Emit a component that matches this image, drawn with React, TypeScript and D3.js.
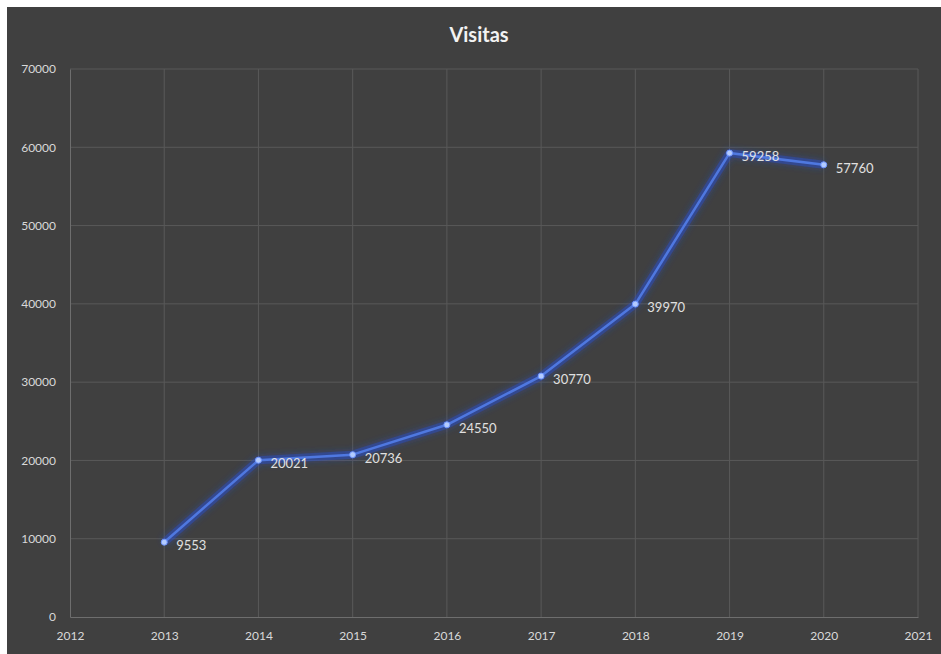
import React, { useEffect, useRef } from 'react';
import * as d3 from 'd3';

const years = [2013, 2014, 2015, 2016, 2017, 2018, 2019, 2020];
const visits = [9553, 20021, 20736, 24550, 30770, 39970, 59258, 57760];
const xTicks = [2012, 2013, 2014, 2015, 2016, 2017, 2018, 2019, 2020, 2021];
const yTicks = [0, 10000, 20000, 30000, 40000, 50000, 60000, 70000];

const App: React.FC = () => {
  const svgRef = useRef<SVGSVGElement>(null);

  useEffect(() => {
    if (!svgRef.current) return;
    const width = 941;
    const height = 654;
    const margin = { top: 69, right: 23, bottom: 37, left: 70 };

    const svg = d3.select(svgRef.current);
    svg.selectAll('*').remove();
    svg.attr('width', width).attr('height', height);

    const defs = svg.append('defs');
    const glow = defs.append('filter').attr('id', 'glow')
      .attr('x', '-20%').attr('y', '-20%').attr('width', '140%').attr('height', '140%');
    glow.append('feGaussianBlur').attr('in', 'SourceGraphic').attr('stdDeviation', 3.5).attr('result', 'blur');
    const merge = glow.append('feMerge');
    merge.append('feMergeNode').attr('in', 'blur');
    merge.append('feMergeNode').attr('in', 'SourceGraphic');

    svg.append('rect').attr('width', width).attr('height', height).attr('fill', '#ffffff');
    svg.append('rect').attr('x', 7).attr('y', 7).attr('width', width - 7).attr('height', height - 7)
      .attr('fill', '#404040');

    const x = d3.scaleLinear().domain([2012, 2021]).range([margin.left, width - margin.right]);
    const y = d3.scaleLinear().domain([0, 70000]).range([height - margin.bottom, margin.top]);

    const font = 'Lato, "Open Sans", sans-serif';

    // gridlines
    const grid = svg.append('g');
    grid.selectAll('.vg').data(xTicks.slice(1)).enter().append('line')
      .attr('x1', d => x(d)).attr('x2', d => x(d))
      .attr('y1', y(70000)).attr('y2', y(0))
      .attr('stroke', '#595959').attr('stroke-width', 1);
    grid.selectAll('.hg').data(yTicks.slice(1)).enter().append('line')
      .attr('x1', x(2012)).attr('x2', x(2021))
      .attr('y1', d => y(d)).attr('y2', d => y(d))
      .attr('stroke', '#595959').attr('stroke-width', 1);

    // axes
    const xAxis = svg.append('g').attr('transform', `translate(0,${y(0)})`)
      .call(d3.axisBottom(x).tickValues(xTicks).tickFormat(d3.format('d')).tickSize(0).tickPadding(14));
    xAxis.select('.domain').attr('stroke', '#6e6e6e');
    xAxis.selectAll('text').attr('fill', '#d9d9d9').style('font-family', font).style('font-size', '12px');

    const yAxis = svg.append('g').attr('transform', `translate(${x(2012)},0)`)
      .call(d3.axisLeft(y).tickValues(yTicks).tickFormat(d3.format('d')).tickSize(0).tickPadding(14));
    yAxis.select('.domain').attr('stroke', '#6e6e6e');
    yAxis.selectAll('text').attr('fill', '#d9d9d9').style('font-family', font).style('font-size', '12px');

    // title
    svg.append('text').attr('x', 479).attr('y', 42).attr('text-anchor', 'middle')
      .attr('fill', '#f2f2f2').style('font-family', font).style('font-size', '20px').style('font-weight', 'bold')
      .text('Visitas');

    const data = years.map((yr, i) => ({ year: yr, value: visits[i] }));
    const line = d3.line<{ year: number; value: number }>().x(d => x(d.year)).y(d => y(d.value));

    svg.append('path').datum(data).attr('d', line).attr('fill', 'none')
      .attr('stroke', '#2a4fd0').attr('stroke-width', 8).attr('stroke-opacity', 0.4)
      .attr('stroke-linejoin', 'round').style('filter', 'url(#glow)');
    svg.append('path').datum(data).attr('d', line).attr('fill', 'none')
      .attr('stroke', '#4f78e0').attr('stroke-width', 2.5).attr('stroke-linejoin', 'round');

    svg.selectAll('.pt').data(data).enter().append('circle')
      .attr('cx', d => x(d.year)).attr('cy', d => y(d.value)).attr('r', 3)
      .attr('fill', '#b3cbff').attr('stroke', '#6f95ff').attr('stroke-width', 1);

    svg.selectAll('.lbl').data(data).enter().append('text')
      .attr('x', d => x(d.year) + 12).attr('y', d => y(d.value) + 8)
      .attr('fill', '#e0e0e0').style('font-family', font).style('font-size', '13px')
      .text(d => String(d.value));
  }, []);

  return <svg ref={svgRef} style={{ display: 'block', position: 'absolute', left: 0, top: 0 }}></svg>;
};

export default App;
